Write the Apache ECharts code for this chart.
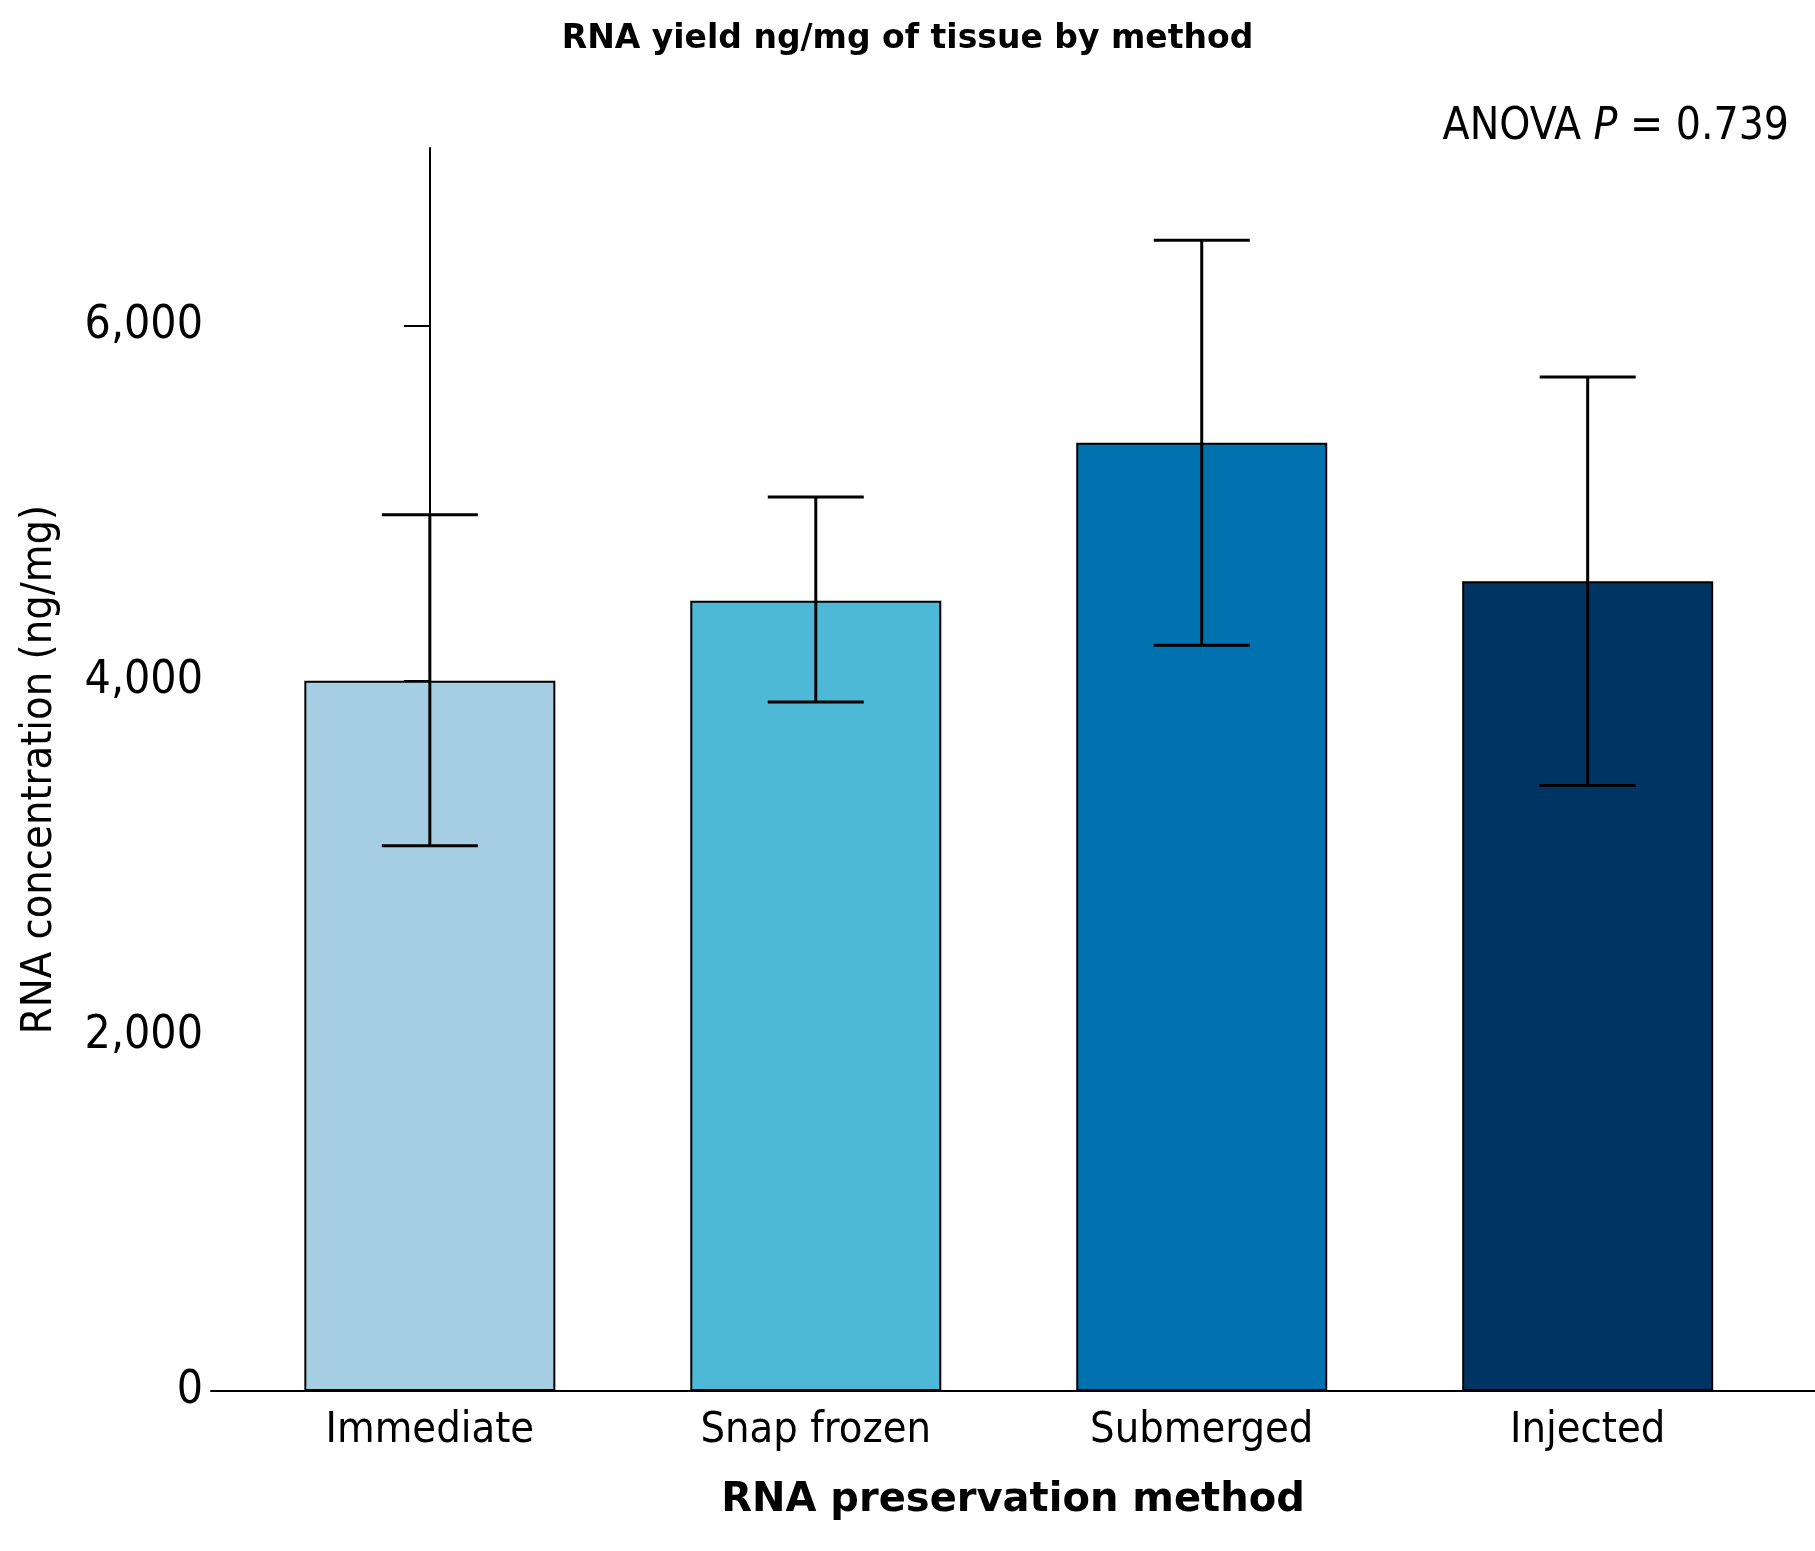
<!DOCTYPE html>
<html>
<head>
<meta charset="utf-8">
<script src="https://cdn.jsdelivr.net/npm/echarts@6/dist/echarts.min.js"></script>
<style>html,body{margin:0;padding:0;background:#fff}#chart{width:1815px;height:1551px}</style>
</head>
<body>
<div id="chart"></div>
<script>
const categories = ['Immediate', 'Snap frozen', 'Submerged', 'Injected']
const means = [4000, 4450, 5340, 4560]
const errLow = [3070, 3880, 4200, 3410]
const errHigh = [4935, 5035, 6480, 5710]
const colors = ['#a6cee3', '#4eb9d6', '#0072b0', '#003462']
const yTicks = [0, 2000, 4000, 6000]

const condensed = "'Liberation Sans Narrow', 'DejaVu Sans Condensed', 'Roboto', sans-serif"
const chart = echarts.init(document.getElementById('chart'))
chart.setOption({
	backgroundColor: '#fff',
	animation: false,
	title: {
		text: 'RNA yield ng/mg of tissue by method',
		left: 'center',
		top: 18,
		textStyle: { fontFamily: 'DejaVu Sans', fontWeight: 'bold', fontSize: 33, color: '#000' }
	},
	graphic: [{
		type: 'text',
		right: 26,
		top: 106,
		style: {
			text: 'ANOVA {i|P} = 0.739',
			font: '44px ' + condensed,
			fill: '#000',
			rich: { i: { fontStyle: 'italic', fontSize: 44, fontFamily: condensed } }
		}
	}],
	grid: { left: 211, right: 0, top: 148, bottom: 160 },
	xAxis: {
		type: 'value',
		min: -0.567,
		max: 3.589,
		splitLine: { show: false },
		axisLine: { lineStyle: { color: '#000', width: 2 } },
		axisTick: { show: true, inside: true, length: 24, customValues: [0, 1, 2, 3], lineStyle: { color: '#000', width: 2 } },
		axisLabel: {
			customValues: [0, 1, 2, 3],
			formatter: (v) => categories[Math.round(v)],
			fontFamily: condensed, fontSize: 43, color: '#000', margin: 18
		},
		name: 'RNA preservation method',
		nameLocation: 'middle',
		nameGap: 90,
		nameTextStyle: { fontFamily: 'DejaVu Sans', fontWeight: 'bold', fontSize: 40, color: '#000' }
	},
	yAxis: {
		type: 'value',
		min: 0,
		max: 7000,
		splitLine: { show: false },
		axisLine: { show: true, lineStyle: { color: '#000', width: 2 } },
		axisTick: { show: true, length: 26, customValues: yTicks, lineStyle: { color: '#000', width: 2 } },
		axisLabel: { customValues: yTicks, fontFamily: condensed, fontSize: 46, color: '#000', margin: 8 },
		name: 'RNA concentration (ng/mg)',
		nameLocation: 'middle',
		nameGap: 150,
		nameTextStyle: { fontFamily: condensed, fontSize: 43, color: '#000' }
	},
	series: [
		{
			type: 'bar',
			barWidth: 251,
			data: means.map((v, i) => ({
				value: [i, v],
				itemStyle: { color: colors[i], borderColor: '#000', borderWidth: 2 }
			}))
		},
		{
			type: 'custom',
			z: 10,
			data: means.map((v, i) => [i, errLow[i], errHigh[i]]),
			renderItem: (params, api) => {
				const lo = api.coord([api.value(0), api.value(1)])
				const hi = api.coord([api.value(0), api.value(2)])
				const hw = 48
				const st = { stroke: '#000', lineWidth: 3 }
				return {
					type: 'group',
					children: [
						{ type: 'line', shape: { x1: lo[0], y1: lo[1], x2: hi[0], y2: hi[1] }, style: st },
						{ type: 'line', shape: { x1: lo[0] - hw, y1: lo[1], x2: lo[0] + hw, y2: lo[1] }, style: st },
						{ type: 'line', shape: { x1: hi[0] - hw, y1: hi[1], x2: hi[0] + hw, y2: hi[1] }, style: st }
					]
				}
			}
		}
	]
})
</script>
</body>
</html>
